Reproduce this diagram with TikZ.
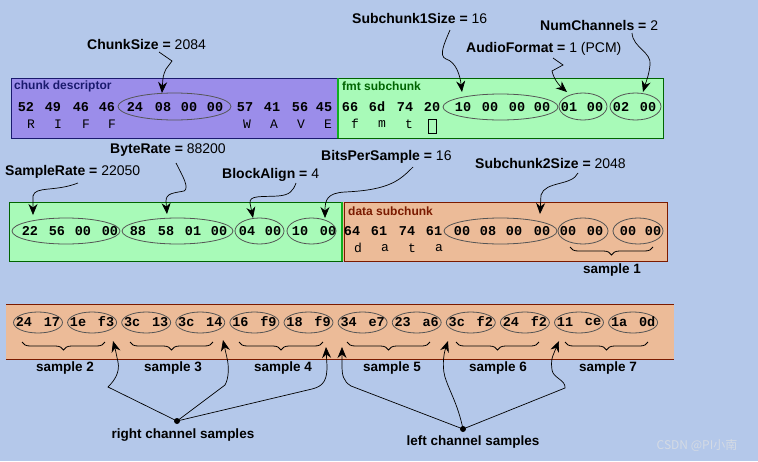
\documentclass[tikz,border=0pt]{standalone}
\usepackage{fontspec}
\setmainfont{Liberation Sans}
\newfontfamily\monof{Liberation Mono}
\newfontfamily\cjkf{Noto Sans CJK SC}
\usetikzlibrary{arrows.meta,shapes.geometric,decorations.pathreplacing}
\definecolor{bgc}{HTML}{B4C8EA}
\definecolor{purp}{HTML}{9B8DEA}
\definecolor{grn}{HTML}{A8FAB8}
\definecolor{org}{HTML}{ECBB98}
\definecolor{navy}{HTML}{1A1A6E}
\definecolor{dgreen}{HTML}{006400}
\definecolor{lgreen}{HTML}{10B020}
\definecolor{dred}{HTML}{7A1A00}
\definecolor{ovalc}{HTML}{555555}
\definecolor{wmark}{HTML}{D4DAE4}
\begin{document}
\begin{tikzpicture}[x=1pt,y=-1pt,
  hexb/.style={font=\monof\bfseries\fontsize{13.5}{14}\selectfont, inner sep=0pt},
  chr/.style={font=\monof\fontsize{13}{14}\selectfont, inner sep=0pt},
  lbl/.style={font=\fontsize{14}{15}\selectfont, inner sep=0pt, anchor=west},
  slbl/.style={font=\bfseries\fontsize{13.5}{15}\selectfont, inner sep=0pt},
  ttl/.style={font=\bfseries\fontsize{12}{13}\selectfont, inner sep=0pt, anchor=west},
  oval/.style={ellipse, draw=ovalc, line width=0.8pt, inner sep=0pt},
  arr/.style={-{Stealth[length=11pt,width=9pt]}, line width=0.7pt},
  link/.style={line width=0.7pt},
  brc/.style={decorate, decoration={brace, mirror, amplitude=8pt}, line width=0.8pt},
  dot/.style={circle, fill=black, inner sep=0pt, minimum size=6pt}
]
\fill[bgc] (0,0) rectangle (758,461);
\useasboundingbox (0,0) rectangle (758,461);

% ---------- top band ----------
\fill[purp] (11,78) rectangle (337,138);
\draw[navy, line width=1pt] (11,78) rectangle (337,138);
\fill[grn] (337,78) rectangle (663,138);
\draw[dgreen, line width=1pt] (337,78) -- (663,78) -- (663,138) -- (337,138);
\draw[lgreen, line width=1.2pt] (338,78) -- (338,138);
\node[ttl, text=navy] (tcd) at (14,86) {chunk descriptor};
\node[ttl, text=dgreen] (tfmt) at (342,86) {fmt subchunk};

\node[oval, minimum width=113, minimum height=27] (eCS) at (174.5,106.5) {};
\node[oval, minimum width=115, minimum height=26] (eS1) at (500.5,107) {};
\node[oval, minimum width=48, minimum height=27] (eAF) at (583,106.5) {};
\node[oval, minimum width=51, minimum height=27] (eNC) at (635.5,106.5) {};

\foreach \x/\t [count=\i] in {26/52,53/49,81/46,107/46,135/24,163/08,189/00,215/00,245/57,272/41,300/56,324/45,
  350/66,377/6d,405/74,432/20,463/10,490/00,517/00,542/00,569/01,595/00,621/02,648/00}
  \node[hexb] (ha\i) at (\x,107) {\t};
\foreach \x/\t [count=\i] in {31/R,58/I,86/F,112/F,247/W,274/A,301/V,328/E,355/f,382/m,409/t}
  \node[chr] (ca\i) at (\x,124) {\t};
\node[draw=black, line width=0.8pt, minimum width=8, minimum height=14, inner sep=0pt] (spc) at (432,126) {};

% ---------- middle band ----------
\fill[grn] (9,202) rectangle (343,261);
\draw[dgreen, line width=1pt] (343,202) -- (9,202) -- (9,261) -- (343,261);
\draw[lgreen, line width=1.2pt] (342,202) -- (342,261);
\fill[org] (343,202) rectangle (667,261);
\draw[dred, line width=1pt] (344,202) rectangle (667,261);
\node[ttl, text=dred] (tdata) at (348,211) {data subchunk};

\node[oval, minimum width=108, minimum height=26] (eSR) at (66,231) {};
\node[oval, minimum width=111, minimum height=26] (eBR) at (177.5,231) {};
\node[oval, minimum width=49, minimum height=26] (eBA) at (259.5,231) {};
\node[oval, minimum width=49, minimum height=26] (eBP) at (311.5,231) {};
\node[oval, minimum width=113, minimum height=26] (eS2) at (500.5,231) {};
\node[oval, minimum width=50, minimum height=26] (eX1) at (583,231) {};
\node[oval, minimum width=50, minimum height=26] (eX2) at (638,231) {};

\foreach \x/\t [count=\i] in {30/22,57/56,83/00,110/00,138/88,166/58,193/01,219/00,247/04,273/00,300/10,328/00,
  352/64,379/61,407/74,434/61,462/00,488/08,514/00,542/00,568/00,595/00,628/00,653/00}
  \node[hexb] (hb\i) at (\x,231) {\t};
\foreach \x/\t [count=\i] in {358/d,385/a,412/t,439/a}
  \node[chr] (cb\i) at (\x,248) {\t};
\draw[brc] (570,247) -- (653,247);
\node[slbl] (s1) at (612,270) {sample 1};

% ---------- bottom band ----------
\fill[org] (6,304) rectangle (674,359);
\draw[dred, line width=1pt] (6,304) -- (674,304) (6,359) -- (674,359);
\foreach \a/\b [count=\i from 0] in {24/17,1e/f3,3c/13,3c/14,16/f9,18/f9,34/e7,23/a6,3c/f2,24/f2,11/ce,1a/0d}{
  \node[oval, minimum width=49, minimum height=21] (ec\i) at (38+54.1*\i,322.5) {};
  \node[hexb] (hca\i) at (24+54.1*\i,322) {\a};
  \node[hexb] (hcb\i) at (52+54.1*\i,322) {\b};
}
\foreach \xa/\xb/\xl/\n in {22/105/65/2,130/213/173/3,239/323/283/4,347/430/392/5,456/539/498/6,565/648/608/7}{
  \draw[brc] (\xa,342) -- (\xb,342);
  \node[slbl] (sl\n) at (\xl,368) {sample \n};
}

% ---------- labels ----------
\node[lbl] (lCS) at (87,44) {\textbf{ChunkSize =} 2084};
\node[lbl] (lS1) at (352,18) {\textbf{Subchunk1Size =} 16};
\node[lbl] (lNC) at (540,25) {\textbf{NumChannels =} 2};
\node[lbl] (lAF) at (466,49) {\textbf{AudioFormat =} 1 (PCM)};
\node[lbl] (lSR) at (5,172) {\textbf{SampleRate =} 22050};
\node[lbl] (lBR) at (110,150) {\textbf{ByteRate =} 88200};
\node[lbl] (lBA) at (222,175) {\textbf{BlockAlign =} 4};
\node[lbl] (lBP) at (321,157) {\textbf{BitsPerSample =} 16};
\node[lbl] (lS2) at (475,163) {\textbf{Subchunk2Size =} 2048};

% arrow start / end points
\coordinate (aCS) at (159,52);   \coordinate (tCS) at (162,93);
\coordinate (aS1) at (450,30);   \coordinate (tS1) at (462,92);
\coordinate (aNC) at (632,33);   \coordinate (tNC) at (643,92);
\coordinate (aAF) at (553,58);   \coordinate (tAF) at (567,92);
\coordinate (aSR) at (78,183);   \coordinate (tSR) at (33,215);
\coordinate (aBR) at (176,163);  \coordinate (tBR) at (167,214);
\coordinate (aBA) at (296,183);  \coordinate (tBA) at (253,218);
\coordinate (aBP) at (413,167);  \coordinate (tBP) at (325,218);
\coordinate (aS2) at (578,173);  \coordinate (tS2) at (540,214);

\draw[arr] (aCS) -- (172,61) -- (166,69) .. controls (163,76) .. (tCS);
\draw[arr] (aS1) .. controls (445,42) and (438,56) .. (446,59) .. controls (456,62) and (460,75) .. (tS1);
\draw[arr] (aNC) .. controls (633,48) and (652,52) .. (650,65) .. controls (649,75) and (646,82) .. (tNC);
\draw[arr] (aAF) -- (563,65) -- (552,71) .. controls (554,80) and (560,86) .. (tAF);
\draw[arr] (aSR) .. controls (55,192) and (35,186) .. (33,196) -- (tSR);
\draw[arr] (aBR) .. controls (182,175) and (190,188) .. (184,191) .. controls (174,193) and (166,193) .. (166,201) -- (tBR);
\draw[arr] (aBA) .. controls (293,191) and (290,195) .. (278,196) .. controls (262,197) and (249,195) .. (250,203) -- (tBA);
\draw[arr] (aBP) .. controls (400,180) and (390,190) .. (345,192) .. controls (327,193) and (325,200) .. (tBP);
\draw[arr] (aS2) .. controls (572,186) and (545,181) .. (541,195) -- (tS2);

% ---------- channel samples ----------
\node[dot] (R) at (177,421) {};
\node[dot] (L) at (463,429) {};
\node[slbl] (lR) at (183,435) {right channel samples};
\node[slbl] (lL) at (473,442) {left channel samples};

\coordinate (tR1) at (113,341); \coordinate (tR2) at (223,340); \coordinate (tR3) at (326,347);
\coordinate (tL1) at (342,347); \coordinate (tL2) at (448,341); \coordinate (tL3) at (559,341);

\draw[arr] (R.center) -- (108,387) .. controls (115,380) and (120,372) .. (118,362) .. controls (117,355) .. (tR1);
\draw[arr] (R.center) -- (225,385) .. controls (229,378) and (229,366) .. (227,358) -- (tR2);
\draw[arr] (R.center) -- (312,389) .. controls (325,386) and (327,378) .. (327,366) -- (tR3);
\draw[arr] (L.center) -- (351,386) .. controls (343,381) and (342,375) .. (342,365) -- (tL1);
\draw[arr] (L.center) .. controls (458,405) and (450,392) .. (446,380) .. controls (442,370) and (443,356) .. (tL2);
\draw[arr] (L.center) -- (565,388) .. controls (566,380) and (553,378) .. (552,370) .. controls (551,360) .. (tL3);

% watermark
\node[font=\cjkf\fontsize{12}{13}\selectfont, text=wmark, inner sep=0pt] (wm) at (697,445) {CSDN @PI小南};
\end{tikzpicture}
\end{document}
